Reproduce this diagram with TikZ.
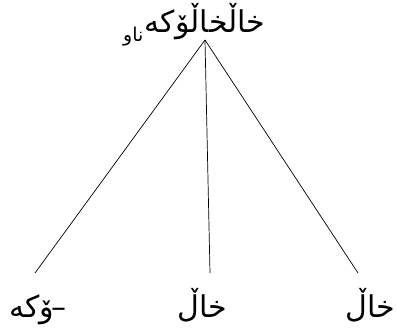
\documentclass[tikz,border=0pt]{standalone}
\usepackage{fontspec}
\TeXXeTstate=1
\newfontfamily\arabicfont[Script=Arabic]{DejaVu Sans}
\begin{document}
\begin{tikzpicture}[x=1pt,y=1pt,
  word/.style={font=\arabicfont\fontsize{30}{34}\selectfont, inner sep=0pt, anchor=base},
  sub/.style={font=\arabicfont\fontsize{19}{22}\selectfont, inner sep=0pt, anchor=base east},
  branch/.style={line width=0.7pt, black}]
\useasboundingbox (0,0) rectangle (396,329);
\node[word] (top) at (205,296) {\beginR خاڵخاڵۆکە\endR};
\node[sub] (tsub) at ([xshift=-1pt,yshift=-9pt]top.base west) {\beginR ناو\endR};
\node[word] (l1) at (38,11) {\beginR –\kern-2pt ۆکە\endR};
\node[word] (l2) at (202,11) {\beginR خاڵ\endR};
\node[word] (l3) at (370,11) {\beginR خاڵ\endR};
\draw[branch] ([yshift=-7pt]top.base) -- ([xshift=-3pt,yshift=45pt]l1.base);
\draw[branch] ([yshift=-7pt]top.base) -- ([xshift=8pt,yshift=45pt]l2.base);
\draw[branch] ([yshift=-7pt]top.base) -- ([xshift=-12pt,yshift=45pt]l3.base);
\end{tikzpicture}
\end{document}
